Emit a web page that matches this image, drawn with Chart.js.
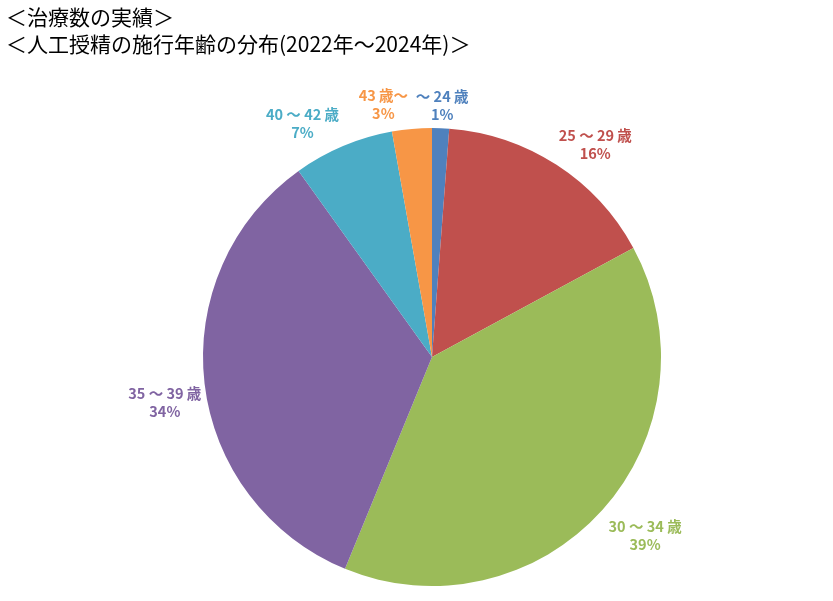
<!DOCTYPE html>
<html>
<head>
<meta charset="utf-8">
<script src="https://cdn.jsdelivr.net/npm/chart.js@4"></script>
<style>
  body { margin: 0; background: #fff; }
  #wrap { width: 833px; height: 601px; position: relative; }
</style>
</head>
<body>
<div id="wrap"><canvas id="pie"></canvas></div>
<script>
// data
const ageLabels = ["～ 24 歳", "25 ～ 29 歳", "30 ～ 34 歳", "35 ～ 39 歳", "40 ～ 42 歳", "43 歳～"];
const shares = [1.2, 15.9, 39.1, 33.9, 7.1, 2.8];
const pctText = ["1%", "16%", "39%", "34%", "7%", "3%"];
const sliceColors = ["#4F81BD", "#C0504D", "#9BBB59", "#8064A2", "#4BACC6", "#F79646"];
const titleLines = ["＜治療数の実績＞", "＜人工授精の施行年齢の分布(2022年～2024年)＞"];

// small nudges for the outside labels (px), like excel's best fit
const labelNudge = [[0, 17], [17, 13], [13, -1], [0, 14], [-25, 14], [-25, 15]];

const JP = '"Noto Sans CJK JP", "Noto Sans", sans-serif';

// title + outside labels
const drawStuff = {
    id: "drawStuff",
    afterDraw(chart) {
        const ctx = chart.ctx;
        ctx.save();
        ctx.fillStyle = "#000";
        ctx.font = "21px " + JP;
        ctx.textAlign = "left";
        ctx.textBaseline = "middle";
        ctx.fillText(titleLines[0], 6, 17);
        ctx.fillText(titleLines[1], 6, 44);

        const arcs = chart.getDatasetMeta(0).data;
        arcs.forEach((arc, i) => {
            const mid = (arc.startAngle + arc.endAngle) / 2;
            const r = arc.outerRadius + 40;
            const x = arc.x + Math.cos(mid) * r + labelNudge[i][0];
            const y = arc.y + Math.sin(mid) * r + labelNudge[i][1];
            ctx.fillStyle = sliceColors[i];
            ctx.font = "bold 14.5px " + JP;
            ctx.textAlign = "center";
            ctx.fillText(ageLabels[i], x, y - 9);
            ctx.fillText(pctText[i], x, y + 9);
        });
        ctx.restore();
    }
};

new Chart("pie", {
    type: "pie",
    data: {
        labels: ageLabels,
        datasets: [{
            data: shares,
            backgroundColor: sliceColors,
            borderWidth: 0
        }]
    },
    options: {
        responsive: true,
        maintainAspectRatio: false,
        animation: false,
        layout: { padding: { top: 128, bottom: 15, left: 203, right: 172 } },
        plugins: {
            legend: { display: false },
            title: { display: false },
            tooltip: { enabled: false }
        }
    },
    plugins: [drawStuff]
});
</script>
</body>
</html>
